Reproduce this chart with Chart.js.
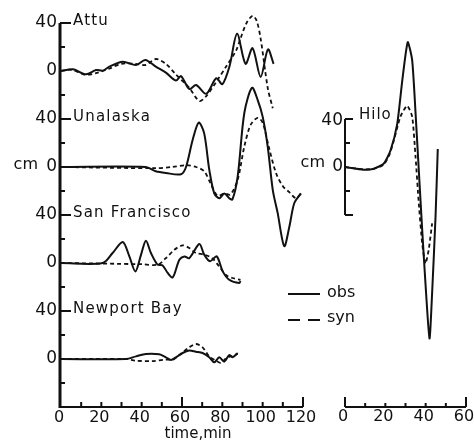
<!DOCTYPE html>
<html>
<head>
<meta charset="utf-8">
<script src="https://cdn.jsdelivr.net/npm/chart.js@4.4.1/dist/chart.umd.min.js"></script>
<style>
  html, body { margin: 0; padding: 0; background: #fff; }
  #wrap { position: relative; width: 474px; height: 444px; }
  canvas { position: absolute; left: 0; top: 0; }
</style>
</head>
<body>
<div id="wrap">
  <canvas id="leftChart" width="474" height="444"></canvas>
  <canvas id="hiloChart" width="474" height="444"></canvas>
</div>
<script>
// waveforms: time (min) / amplitude (cm)
const attuObsT = [0, 6, 12.4, 17.4, 20.7, 24, 30.6, 37.2, 41.8, 47, 52, 57, 59.5, 63.6, 67, 72, 77, 80, 83.5, 87.3, 91.5, 95, 99, 102.6, 105.4];
const attuObs  = [0, 1.4, -2.8, 0.8, 0.3, 3.6, 7.8, 5, 9.2, 3.6, -1.4, -8, -4.2, -15, -11.7, -19, -6, -11, 3.6, 31, 6, 19, -5, 18, 6];
const attuSynT = [0, 5, 12, 17, 24, 30, 37, 42, 47, 52, 57, 63.6, 68.6, 72, 77, 82, 86.8, 89, 92, 95, 97, 99, 102.5, 105];
const attuSyn  = [0, 1, -3, -2, 2, 6, 6, 5, 10, 6, -3, -14, -25, -21, -9, 4, 17, 27, 40, 46, 42, 27, -14, -31];

const unaObsT = [0, 42, 47, 52, 59.5, 62, 65.3, 68.3, 71, 73.5, 76, 78.5, 81, 83.4, 85, 87.6, 90.9, 94.7, 97.5, 100, 102.5, 105, 107.4, 110.7, 113.2, 115.7, 119];
const unaObs  = [0, 0, -3.6, -5, -6, 0, 22.7, 37, 28, -2, -22, -26, -22, -26, -27, -8, 45, 66, 56, 42, 17, -19, -38, -66, -50, -30, -22];
const unaSynT = [0, 47, 55, 62, 67, 71, 74, 77.6, 81, 84, 87.6, 90.9, 94, 97.5, 100, 103, 106.6, 110, 113.2, 116.5, 119];
const unaSyn  = [0, -1, 0, 1.5, 0, -3.6, -13, -24, -22, -23, -10.5, 17, 35, 41, 37, 17, -5, -16, -21, -26, -22];

const sfObsT = [0, 20.7, 25.6, 30.6, 33.9, 36.9, 39.7, 42.1, 44.6, 47.9, 50.4, 52.9, 55.4, 58.7, 61.2, 63.6, 68.6, 71, 73.9, 77.2, 80.2, 83.4, 88.4, 89];
const sfObs  = [0, 0, 8.3, 17.5, 5.5, -7, 7, 18.6, 8.3, -1.4, -2, -8.3, -12, 2.8, 5.5, 4, 15.8, 7, 1.4, 5.5, -7, -14, -16.7, -15];
const sfSynT = [0, 40, 47.9, 52, 56.2, 60.3, 63.6, 66.9, 71, 75, 78.5, 81.8, 85, 89];
const sfSyn  = [0, -1, -1.4, 4, 11, 14.7, 12.5, 8.3, 7, 4, -3, -10, -12.5, -14];

const npObsT = [0, 32.2, 37.2, 42.1, 48.7, 52, 54.5, 57, 60.3, 63.6, 66.9, 70.2, 73.5, 76, 78.5, 81, 83.4, 85.1, 87.6];
const npObs  = [0, 0, 2.2, 4.2, 3.9, 1.4, -0.8, 1.4, 5, 7, 6, 5, 1.4, -2.8, 1.4, -2.2, 3.3, 1.4, 5];
const npSynT = [0, 32, 37.2, 45.4, 52, 55.4, 58.7, 63.6, 66.9, 70.2, 73.5, 76.8, 79.3, 81.8, 85.1, 87.6];
const npSyn  = [0, 0, -1.4, -1.7, -0.5, -0.5, 3.3, 9.7, 12.5, 9.7, 2.2, -1.4, -3.3, 0.5, 2.8, 4.2];

const hiloObsT = [0, 9.3, 14.3, 19.2, 22.6, 25.9, 28.4, 31.1, 33.3, 35, 36.6, 38.3, 39.9, 41.9, 43.2, 44.9, 46];
const hiloObs  = [0, -2.2, -1.4, 2.8, 14, 36, 72, 104, 89, 44.5, -3, -53, -97, -143, -105, -41, 15];
const hiloSynT = [0, 9.3, 14.3, 19.2, 22, 24.2, 27.5, 30.8, 33.3, 35, 36.6, 38.3, 39.9, 41.5, 43.2];
const hiloSyn  = [0, -2, -1.5, 2, 10, 22, 42, 51, 42, 8, -30.5, -64, -80.5, -69, -47];

// stacked traces: each station is shifted by 80 cm
const stations = ['Attu', 'Unalaska', 'San Francisco', 'Newport Bay'];
const offsets = [240, 160, 80, 0];
const hiloOffset = 160;
const leftXTicks = [0, 20, 40, 60, 80, 100, 120];
const hiloXTicks = [0, 20, 40, 60];

const FONT = '"DejaVu Sans", Verdana, sans-serif';
const INK = '#111';

const pts = (t, v, off) => t.map((x, i) => ({ x, y: v[i] + off }));
const obsSet = (t, v, off, tension = 0.3) => ({ data: pts(t, v, off), borderColor: INK, borderWidth: 2, pointRadius: 0, tension, fill: false });
const synSet = (t, v, off, tension = 0.3) => ({ data: pts(t, v, off), borderColor: INK, borderWidth: 1.8, borderDash: [4, 3], pointRadius: 0, tension, fill: false });

function line(ctx, x1, y1, x2, y2) {
  ctx.beginPath(); ctx.moveTo(x1, y1); ctx.lineTo(x2, y2); ctx.stroke();
}
function text(ctx, s, x, y, size, align, base, spacing) {
  ctx.font = size + 'px ' + FONT;
  ctx.textAlign = align; ctx.textBaseline = base;
  ctx.letterSpacing = (spacing || 0) + 'px';
  ctx.fillText(s, x, y);
  ctx.letterSpacing = '0px';
}

const leftAxes = {
  id: 'leftAxes',
  afterDraw(chart) {
    const { ctx, scales: { x, y } } = chart;
    const ax = x.getPixelForValue(0) - 1;
    const yb = y.getPixelForValue(-40);
    ctx.save();
    ctx.strokeStyle = INK; ctx.fillStyle = INK;
    ctx.lineWidth = 3;
    line(ctx, ax, y.getPixelForValue(280), ax, yb + 1);
    ctx.lineWidth = 2;
    line(ctx, ax, yb, x.getPixelForValue(120), yb);
    // y ticks for each station
    offsets.forEach((o, i) => {
      const y40 = y.getPixelForValue(o + 40);
      line(ctx, ax, y40, ax + 11, y40);
      line(ctx, ax, y.getPixelForValue(o + 20), ax + 5, y.getPixelForValue(o + 20));
      line(ctx, ax, y.getPixelForValue(o - 20), ax + 5, y.getPixelForValue(o - 20));
      text(ctx, '40', ax - 3, y40, 17, 'right', 'middle');
      text(ctx, '0', ax - 3, y.getPixelForValue(o), 17, 'right', 'middle');
      text(ctx, stations[i], ax + 13, y40 + 2, 15, 'left', 'alphabetic', 1.2);
    });
    text(ctx, 'cm', 38, y.getPixelForValue(160) - 2, 16, 'right', 'middle');
    // x ticks
    for (let t = 10; t <= 120; t += 10) {
      const px = x.getPixelForValue(t);
      line(ctx, px, yb, px, yb - (t % 60 === 0 ? 10 : 5));
    }
    leftXTicks.forEach(t => text(ctx, String(t), x.getPixelForValue(t) - 2, yb + 11, 16, 'center', 'middle'));
    text(ctx, 'time,min', 198, 434, 15, 'center', 'middle');
    ctx.restore();
  }
};

const hiloAxes = {
  id: 'hiloAxes',
  afterDraw(chart) {
    const { ctx, scales: { x, y } } = chart;
    const ax = x.getPixelForValue(0);
    const yb = y.getPixelForValue(-40);
    ctx.save();
    ctx.strokeStyle = INK; ctx.fillStyle = INK;
    ctx.lineWidth = 2;
    const yt = y.getPixelForValue(hiloOffset + 40);
    const ym = y.getPixelForValue(hiloOffset - 40);
    line(ctx, ax, yt, ax, ym);
    line(ctx, ax, yt, ax + 8, yt);
    line(ctx, ax, ym, ax + 8, ym);
    line(ctx, ax, y.getPixelForValue(hiloOffset + 20), ax + 5, y.getPixelForValue(hiloOffset + 20));
    line(ctx, ax, y.getPixelForValue(hiloOffset - 20), ax + 5, y.getPixelForValue(hiloOffset - 20));
    text(ctx, '40', ax - 2, yt + 2, 17, 'right', 'middle');
    text(ctx, '0', ax - 2, y.getPixelForValue(hiloOffset), 17, 'right', 'middle');
    text(ctx, 'Hilo', ax + 14, yt, 15, 'left', 'alphabetic', 1);
    text(ctx, 'cm', 325, y.getPixelForValue(hiloOffset) - 4, 16, 'right', 'middle');
    // x axis
    ctx.lineWidth = 2;
    line(ctx, ax, yb, x.getPixelForValue(60), yb);
    for (let t = 0; t <= 60; t += 10) {
      const px = x.getPixelForValue(t);
      line(ctx, px, yb, px, yb - (t % 60 === 0 ? 10 : 4));
    }
    hiloXTicks.forEach(t => text(ctx, String(t), x.getPixelForValue(t) - 2, yb + 10, 16, 'center', 'middle'));
    // legend
    line(ctx, 288, 294, 320, 294);
    line(ctx, 288, 320, 300, 320);
    line(ctx, 308, 320, 320, 320);
    text(ctx, 'obs', 327, 293, 16, 'left', 'middle');
    text(ctx, 'syn', 327, 318, 16, 'left', 'middle');
    ctx.restore();
  }
};

const baseOptions = (xMax, pad) => ({
  responsive: false,
  animation: false,
  devicePixelRatio: 1,
  layout: { padding: pad },
  plugins: { legend: { display: false }, tooltip: { enabled: false } },
  elements: { line: { capBezierPoints: true } },
  clip: false,
  scales: {
    x: { type: 'linear', min: 0, max: xMax, display: false },
    y: { type: 'linear', min: -40, max: 290, display: false },
  },
});

new Chart(document.getElementById('leftChart'), {
  type: 'line',
  data: {
    datasets: [
      obsSet(attuObsT, attuObs, offsets[0]), synSet(attuSynT, attuSyn, offsets[0]),
      obsSet(unaObsT, unaObs, offsets[1]), synSet(unaSynT, unaSyn, offsets[1]),
      obsSet(sfObsT, sfObs, offsets[2]), synSet(sfSynT, sfSyn, offsets[2]),
      obsSet(npObsT, npObs, offsets[3]), synSet(npSynT, npSyn, offsets[3]),
    ],
  },
  options: baseOptions(120, { left: 61, right: 171, top: 11, bottom: 37 }),
  plugins: [leftAxes],
});

new Chart(document.getElementById('hiloChart'), {
  type: 'line',
  data: {
    datasets: [
      obsSet(hiloObsT, hiloObs, hiloOffset, 0.2),
      synSet(hiloSynT, hiloSyn, hiloOffset, 0.2),
    ],
  },
  options: baseOptions(60, { left: 345, right: 8, top: 11, bottom: 37 }),
  plugins: [hiloAxes],
});
</script>
</body>
</html>
